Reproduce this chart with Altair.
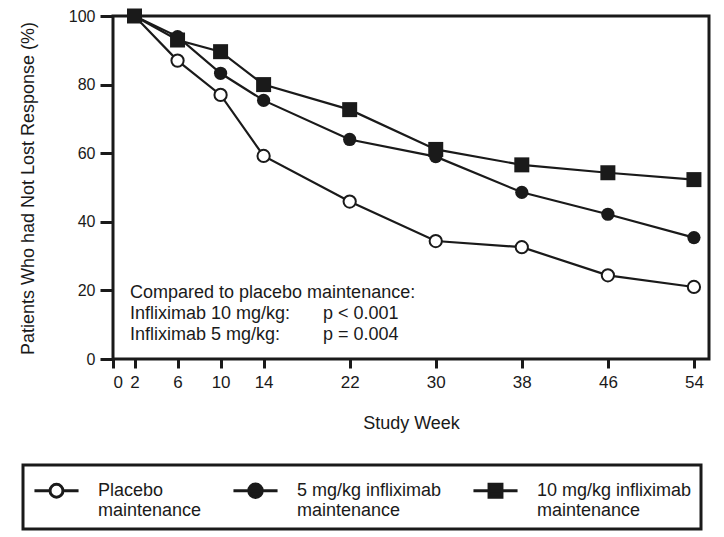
import altair as alt
import pandas as pd

# ---- data ----
weeks = [2, 6, 10, 14, 22, 30, 38, 46, 54]
placebo = [100, 87, 77, 59.2, 45.9, 34.4, 32.6, 24.4, 21.0]
mg5 = [100, 94, 83.3, 75.4, 64.0, 59.0, 48.6, 42.2, 35.4]
mg10 = [100, 93, 89.6, 80.0, 72.7, 61.1, 56.6, 54.3, 52.3]
series_names = ["Placebo maintenance",
                "5 mg/kg infliximab maintenance",
                "10 mg/kg infliximab maintenance"]
x_ticks = [0, 2, 6, 10, 14, 22, 30, 38, 46, 54]
y_ticks = [0, 20, 40, 60, 80, 100]
ann_left = ["Compared to placebo maintenance:", "Infliximab 10 mg/kg:", "Infliximab 5 mg/kg:"]
ann_right = ["", "p < 0.001", "p = 0.004"]

rows = []
for name, vals in zip(series_names, [placebo, mg5, mg10]):
    for w, v in zip(weeks, vals):
        rows.append({"week": w, "pct": v, "series": name})
df = pd.DataFrame(rows)

FONT = "Liberation Sans, Arial, sans-serif"
INK = "#1a1a1a"

xscale = alt.Scale(domain=[0, 55.4], nice=False, zero=False)
yscale = alt.Scale(domain=[0, 100], nice=False)

x_enc = alt.X("week:Q", scale=xscale,
              axis=alt.Axis(values=x_ticks, title="Study Week", domain=False, grid=False,
                            tickSize=9, tickWidth=3, tickColor=INK,
                            labelFontSize=17, labelPadding=6, labelColor=INK,
                            titleFontSize=18, titleFontWeight="normal", titleColor=INK,
                            titleY=64, titleBaseline="middle"))
y_enc = alt.Y("pct:Q", scale=yscale,
              axis=alt.Axis(values=y_ticks, title="Patients Who had Not Lost Response (%)",
                            domain=False, grid=False,
                            tickSize=13, tickWidth=3, tickColor=INK,
                            labelFontSize=16, labelPadding=5, labelColor=INK,
                            titleFontSize=18, titleFontWeight="normal", titleColor=INK,
                            titleX=-85, titleY=172, titleAngle=270,
                            titleAlign="center", titleBaseline="middle"))

base = alt.Chart(df)

lines = base.mark_line(color=INK, strokeWidth=2.2).encode(
    x=x_enc, y=y_enc, detail="series:N")

pt_placebo = base.transform_filter(alt.datum.series == series_names[0]).mark_point(
    shape="circle", size=150, filled=True, fill="white", stroke=INK, strokeWidth=2, opacity=1
).encode(x="week:Q", y="pct:Q")
pt_5 = base.transform_filter(alt.datum.series == series_names[1]).mark_point(
    shape="circle", size=175, filled=True, color=INK, opacity=1
).encode(x="week:Q", y="pct:Q")
pt_10 = base.transform_filter(alt.datum.series == series_names[2]).mark_point(
    shape="square", size=225, filled=True, color=INK, opacity=1
).encode(x="week:Q", y="pct:Q")

# legend symbols: line with marker (custom paths, unit = sqrt(size)/2 = 15px)
leg_paths = [
    "M-1.47,0H-0.43M0.43,0H1.47M-0.43,0A0.43,0.43,0,1,0,0.43,0A0.43,0.43,0,1,0,-0.43,0Z",
    "M-1.47,0H1.47M-0.45,0A0.45,0.45,0,1,0,0.45,0A0.45,0.45,0,1,0,-0.45,0Z",
    "M-1.47,0H1.47M-0.43,-0.43H0.43V0.43H-0.43Z",
]
leg_fill = ["white", INK, INK]
leg_stroke = [INK, INK, INK]
legend_def = dict(title=None, orient="none", legendX=-90, legendY=449,
                  direction="horizontal", columns=3, columnPadding=25,
                  symbolSize=900, symbolStrokeWidth=3,
                  symbolOpacity=1, symbolOffset=8,
                  labelFontSize=18, labelColor=INK, labelFont=FONT, labelLimit=300,
                  labelOffset=25, labelBaseline="middle",
                  labelExpr="[replace(datum.label, ' maintenance', ''), 'maintenance']",
                  padding=9, strokeColor=INK, fillColor="white")
ghost = base.mark_point(opacity=0, strokeWidth=3).encode(
    x="week:Q", y="pct:Q",
    shape=alt.Shape("series:N", scale=alt.Scale(domain=series_names, range=leg_paths),
                    legend=alt.Legend(**legend_def)),
    fill=alt.Fill("series:N", scale=alt.Scale(domain=series_names, range=leg_fill),
                  legend=alt.Legend(**legend_def)),
    stroke=alt.Stroke("series:N", scale=alt.Scale(domain=series_names, range=leg_stroke),
                      legend=alt.Legend(**legend_def)),
)

ann_df = pd.DataFrame({"left": ["\n".join(ann_left)], "right": ["\n".join(ann_right)]})
ann_l = alt.Chart(ann_df).mark_text(align="left", baseline="alphabetic", lineBreak="\n",
                                    lineHeight=21, fontSize=18, color=INK, font=FONT).encode(
    x=alt.value(17), y=alt.value(282), text="left:N")
ann_r = alt.Chart(ann_df).mark_text(align="left", baseline="alphabetic", lineBreak="\n",
                                    lineHeight=21, fontSize=18, color=INK, font=FONT).encode(
    x=alt.value(210), y=alt.value(282), text="right:N")

chart = alt.layer(lines, pt_placebo, pt_5, pt_10, ghost, ann_l, ann_r).properties(
    width=596, height=343,
    autosize=alt.AutoSizeParams(type="none"),
    padding={"left": 105, "top": 8, "right": 7, "bottom": 175},
).configure(font=FONT).configure_view(stroke=INK, strokeWidth=3).configure_legend(strokeWidth=3)

chart.save("out.html", embed_options={"renderer": "svg", "actions": False})
